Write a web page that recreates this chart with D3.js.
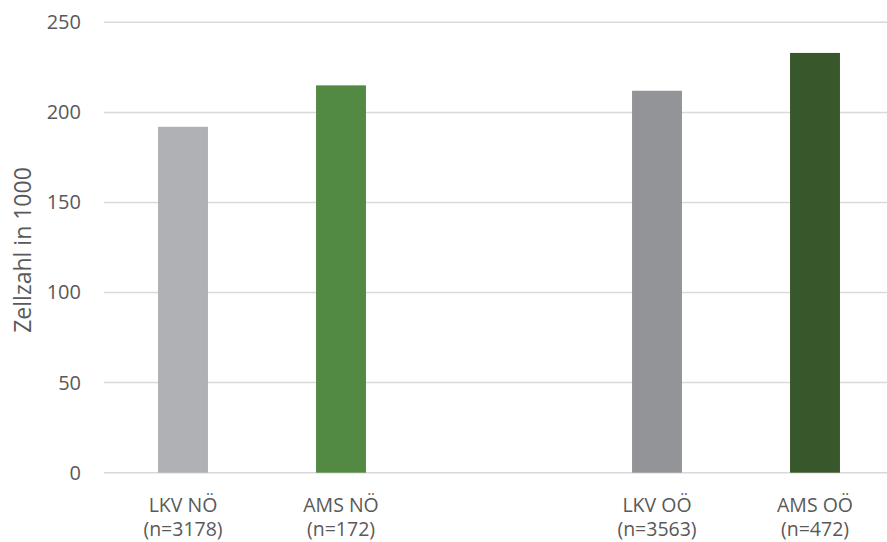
<!DOCTYPE html>
<html>
<head>
<meta charset="utf-8">
<script src="https://cdn.jsdelivr.net/npm/d3@7"></script>
<style>
  html, body { margin: 0; padding: 0; background: #fff; }
  svg { display: block; font-family: "Open Sans", sans-serif; }
</style>
</head>
<body>
<svg id="chart" width="887" height="542"></svg>
<script>
// Data
const slots = ["LKV NÖ", "AMS NÖ", "", "LKV OÖ", "AMS OÖ"];
const categories = ["LKV NÖ", "AMS NÖ", "LKV OÖ", "AMS OÖ"];
const sampleSizes = ["(n=3178)", "(n=172)", "(n=3563)", "(n=472)"];
const values = [192, 215, 212, 233];
const colors = ["#B0B1B4", "#538A43", "#939497", "#38572A"];
const yTicks = [0, 50, 100, 150, 200, 250];
const yTitle = "Zellzahl in 1000";

const svg = d3.select("#chart");
const margin = { left: 104, top: 22.3 };
const plotW = 790, plotBottom = 472.7;

const x = d3.scaleBand().domain(slots).range([margin.left, margin.left + plotW]).padding(0);
const y = d3.scaleLinear().domain([0, 250]).range([plotBottom, margin.top]);
const barW = x.bandwidth() * 0.316;

// gridlines
svg.append("g").selectAll("line").data(yTicks).join("line")
  .attr("x1", margin.left).attr("x2", 887)
  .attr("y1", d => y(d)).attr("y2", d => y(d))
  .attr("stroke", "#D9D9D9").attr("stroke-width", 1.5);

// y axis labels
const yAxis = d3.axisLeft(y).tickValues(yTicks).tickSize(0).tickPadding(23);
const gy = svg.append("g").attr("transform", `translate(${margin.left},0)`).call(yAxis);
gy.select(".domain").remove();
gy.selectAll("text").attr("fill", "#595959").style("font-size", "20px")
  .style("font-family", "'Open Sans', sans-serif");

// bars
svg.append("g").selectAll("rect").data(categories).join("rect")
  .attr("x", d => x(d) + (x.bandwidth() - barW) / 2)
  .attr("width", barW)
  .attr("y", (d, i) => y(values[i]))
  .attr("height", (d, i) => y(0) - y(values[i]))
  .attr("fill", (d, i) => colors[i]);

// x axis labels
const xAxis = d3.axisBottom(x).tickValues(categories).tickSize(0).tickPadding(0).tickFormat(() => "");
const gx = svg.append("g").attr("transform", `translate(0,${plotBottom})`).call(xAxis);
gx.select(".domain").remove();
gx.selectAll(".tick").each(function (d) {
  const i = categories.indexOf(d);
  const t = d3.select(this).select("text").attr("y", 0).attr("dy", null)
    .attr("fill", "#595959").style("font-size", "19.5px")
    .style("font-family", "'Open Sans', sans-serif");
  t.append("tspan").attr("x", 0).attr("y", 39).text(d);
  t.append("tspan").attr("x", 0).attr("y", 63.5).text(sampleSizes[i]);
});

// y title
svg.append("text")
  .attr("transform", `translate(31,250) rotate(-90)`)
  .attr("text-anchor", "middle")
  .attr("fill", "#595959")
  .style("font-size", "23px")
  .text(yTitle);
</script>
</body>
</html>
